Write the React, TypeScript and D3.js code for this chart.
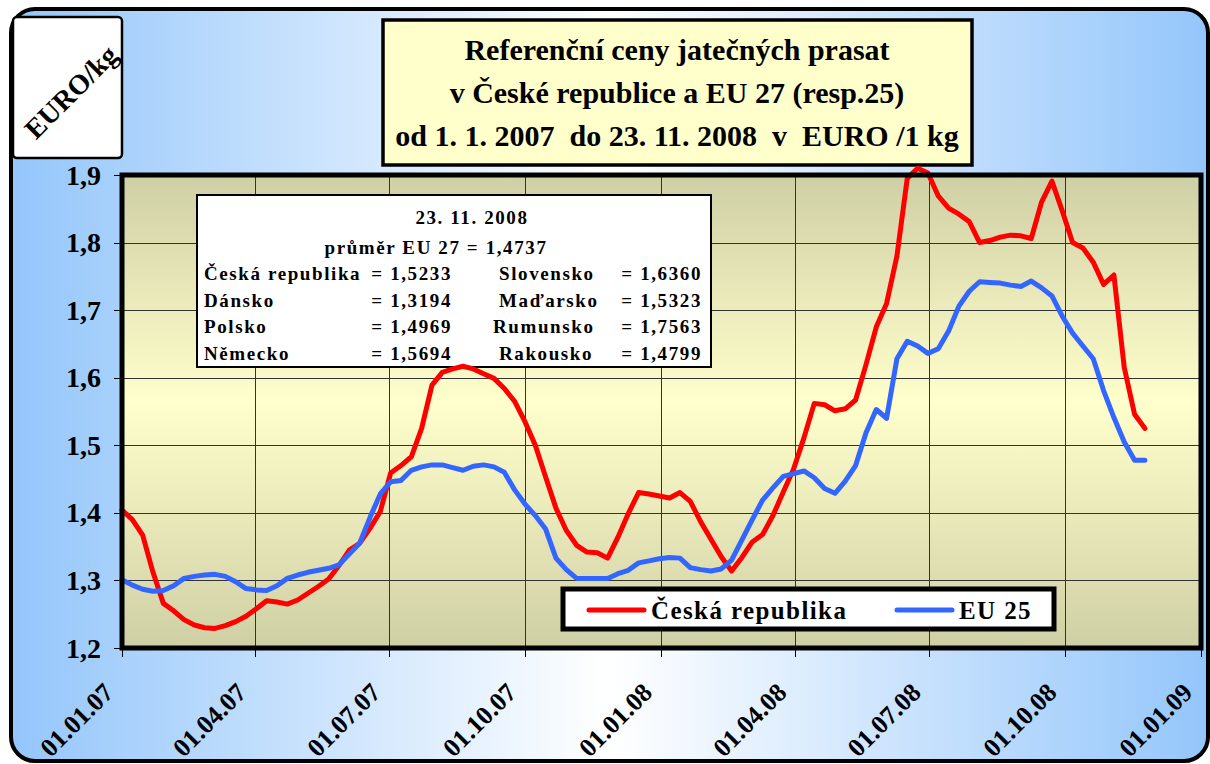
import React from "react";
import * as d3 from "d3";

// weekly prices from 1. 1. 2007 to 23. 11. 2008 (EUR/kg)
const firstWeek = "2007-01-01";
const czValues = [
  1.404, 1.39, 1.367, 1.312, 1.266, 1.255, 1.242, 1.234, 1.23, 1.229,
  1.233, 1.239, 1.247, 1.258, 1.27, 1.268, 1.265, 1.271, 1.281, 1.291,
  1.302, 1.322, 1.345, 1.355, 1.377, 1.402, 1.459, 1.47, 1.483, 1.525,
  1.589, 1.608, 1.613, 1.617, 1.613, 1.606, 1.599, 1.584, 1.565, 1.535,
  1.5, 1.453, 1.407, 1.374, 1.352, 1.342, 1.341, 1.333, 1.364, 1.399,
  1.43, 1.428, 1.425, 1.422, 1.43, 1.417, 1.387, 1.361, 1.335, 1.314,
  1.334, 1.357, 1.368, 1.396, 1.431, 1.465, 1.511, 1.562, 1.56, 1.551,
  1.554, 1.567, 1.619, 1.675, 1.71, 1.78, 1.895, 1.91, 1.903, 1.869,
  1.851, 1.842, 1.831, 1.8, 1.803, 1.808, 1.811, 1.81, 1.806, 1.86,
  1.891, 1.847, 1.8, 1.792, 1.771, 1.738, 1.752, 1.615, 1.546, 1.525,
];
const euValues = [
  1.301, 1.293, 1.287, 1.284, 1.285, 1.292, 1.303, 1.306, 1.308, 1.309,
  1.306, 1.298, 1.288, 1.286, 1.285, 1.292, 1.303, 1.308, 1.312, 1.315,
  1.318, 1.323, 1.339, 1.355, 1.393, 1.428, 1.446, 1.448, 1.463, 1.468,
  1.471, 1.471, 1.467, 1.463, 1.469, 1.471, 1.468, 1.46, 1.434, 1.413,
  1.396, 1.376, 1.333, 1.316, 1.303, 1.303, 1.303, 1.303, 1.31, 1.315,
  1.326, 1.329, 1.332, 1.334, 1.333, 1.319, 1.316, 1.314, 1.317, 1.33,
  1.36, 1.39, 1.419, 1.437, 1.454, 1.458, 1.462, 1.452, 1.436, 1.429,
  1.447, 1.47, 1.518, 1.553, 1.54, 1.628, 1.654, 1.647, 1.636, 1.643,
  1.669, 1.706, 1.728, 1.742, 1.741, 1.74, 1.737, 1.735, 1.743, 1.733,
  1.721, 1.691, 1.666, 1.647, 1.628, 1.581, 1.541, 1.505, 1.478, 1.478,
];
const seriesNames = ["Česká republika", "EU 25"];
const seriesColors = ["#ff0000", "#3366ff"];

const yTicks = [1.2, 1.3, 1.4, 1.5, 1.6, 1.7, 1.8, 1.9];
const xTickDates = [
  "2007-01-01", "2007-04-01", "2007-07-01", "2007-10-01", "2008-01-01",
  "2008-04-01", "2008-07-01", "2008-10-01", "2009-01-01",
];

const titleLines = [
  "Referenční ceny jatečných prasat",
  "v České republice a EU 27 (resp.25)",
  "od 1. 1. 2007  do 23. 11. 2008  v  EURO /1 kg",
];
const unitLabel = "EURO/kg";

const boxDate = "23. 11. 2008";
const boxAverage = "průměr EU 27  = 1,4737";
const leftCountries = ["Česká republika", "Dánsko", "Polsko", "Německo"];
const leftValues = ["= 1,5233", "= 1,3194", "= 1,4969", "= 1,5694"];
const rightCountries = ["Slovensko", "Maďarsko", "Rumunsko", "Rakousko"];
const rightValues = ["= 1,6360", "= 1,5323", "=  1,7563", "= 1,4799"];

const W = 1210;
const H = 764;
const plot = { left: 122, right: 1201, top: 175, bottom: 648 };
const serif = "'Liberation Serif', 'Times New Roman', serif";

export default function App() {
  const parse = d3.timeParse("%Y-%m-%d");
  const start = parse(firstWeek) as Date;
  const weeks = czValues.map((_, i) => d3.timeDay.offset(start, i * 7));
  const ticks = xTickDates.map((d) => parse(d) as Date);

  const x = d3
    .scaleTime()
    .domain([ticks[0], ticks[ticks.length - 1]])
    .range([plot.left, plot.right]);
  const y = d3.scaleLinear().domain([1.2, 1.9]).range([plot.bottom, plot.top]);

  const fmtDate = d3.timeFormat("%d.%m.%y");
  const fmtY = (v: number) => d3.format(".1f")(v).replace(".", ",");

  const line = d3
    .line<number>()
    .x((_, i) => x(weeks[i]))
    .y((d) => y(d))
    .curve(d3.curveLinear);

  const boxX = 197, boxY = 195;

  return (
    <svg
      width={W}
      height={H}
      style={{ position: "absolute", left: 0, top: 0, background: "#fff" }}
      fontFamily={serif}
      fontWeight="bold"
    >
      <defs>
        <linearGradient id="bg" x1="0" y1="0" x2="1" y2="0">
          <stop offset="0%" stopColor="#94c6fb" />
          <stop offset="50%" stopColor="#ffffff" />
          <stop offset="100%" stopColor="#94c6fb" />
        </linearGradient>
        <linearGradient id="plotbg" x1="0" y1="0" x2="0" y2="1">
          <stop offset="0%" stopColor="#cfcfa5" />
          <stop offset="48%" stopColor="#ffffcc" />
          <stop offset="100%" stopColor="#cfcfa5" />
        </linearGradient>
      </defs>

      {/* outer frame */}
      <rect x={11} y={9} width={1197} height={752} rx={24} fill="url(#bg)" stroke="#000" strokeWidth={4} />

      {/* unit label box */}
      <rect x={13} y={17} width={109} height={141} rx={4} fill="#fff" stroke="#000" strokeWidth={2.5} />
      <text
        transform="translate(71,92) rotate(-45)"
        textAnchor="middle"
        dominantBaseline="central"
        fontSize={28}
      >
        {unitLabel}
      </text>

      {/* title box */}
      <rect x={383} y={20} width={589} height={145} fill="#ffffcc" stroke="#000" strokeWidth={3.5} />
      {titleLines.map((t, i) => (
        <text
          key={i}
          x={677}
          y={60 + i * 43}
          textAnchor="middle"
          fontSize={30}
          style={{ whiteSpace: "pre" }}
        >
          {t}
        </text>
      ))}

      {/* plot area */}
      <rect
        x={plot.left}
        y={plot.top}
        width={plot.right - plot.left}
        height={plot.bottom - plot.top}
        fill="url(#plotbg)"
      />
      {yTicks.slice(1, -1).map((v) => (
        <line key={v} x1={plot.left} x2={plot.right} y1={Math.round(y(v)) + 0.5} y2={Math.round(y(v)) + 0.5} stroke="#333" strokeWidth={1} />
      ))}
      {ticks.slice(1, -1).map((d, i) => (
        <line key={i} x1={Math.round(x(d)) + 0.5} x2={Math.round(x(d)) + 0.5} y1={plot.top} y2={plot.bottom} stroke="#333" strokeWidth={1} />
      ))}

      {/* y axis ticks + labels */}
      {yTicks.map((v) => (
        <g key={v}>
          <line x1={114} x2={plot.left} y1={Math.round(y(v)) + 0.5} y2={Math.round(y(v)) + 0.5} stroke="#000" />
          <text x={101} y={y(v)} textAnchor="end" dominantBaseline="central" fontSize={28}>
            {fmtY(v)}
          </text>
        </g>
      ))}

      {/* x axis ticks + labels */}
      {ticks.map((d, i) => (
        <g key={i}>
          <line x1={Math.round(x(d)) + 0.5} x2={Math.round(x(d)) + 0.5} y1={plot.bottom} y2={plot.bottom + 9} stroke="#000" />
          <text
            transform={`translate(${x(d) - 7},694) rotate(-45)`}
            textAnchor="end"
            fontSize={26}
          >
            {fmtDate(d)}
          </text>
        </g>
      ))}

      {/* info box */}
      <rect x={boxX} y={boxY} width={514} height={172} fill="#fff" stroke="#000" strokeWidth={2} />
      <g fontSize={19} letterSpacing={1.6} style={{ whiteSpace: "pre" }}>
        <text x={472} y={boxY + 29} textAnchor="middle">{boxDate}</text>
        <text x={436} y={boxY + 59} textAnchor="middle">{boxAverage}</text>
        {leftCountries.map((c, i) => (
          <g key={c}>
            <text x={204} y={boxY + 85 + i * 26.5}>{c}</text>
            <text x={452} y={boxY + 85 + i * 26.5} textAnchor="end">{leftValues[i]}</text>
            <text x={rightCountries[i] === "Rumunsko" ? 493 : 499} y={boxY + 85 + i * 26.5}>
              {rightCountries[i]}
            </text>
            <text x={702} y={boxY + 85 + i * 26.5} textAnchor="end">{rightValues[i]}</text>
          </g>
        ))}
      </g>

      {/* series */}
      {[czValues, euValues].map((vals, s) => (
        <path
          key={s}
          d={line(vals) || undefined}
          fill="none"
          stroke={seriesColors[s]}
          strokeWidth={5}
          strokeLinejoin="round"
          strokeLinecap="round"
        />
      ))}

      {/* plot border */}
      <rect
        x={plot.left}
        y={plot.top}
        width={plot.right - plot.left}
        height={plot.bottom - plot.top}
        fill="none"
        stroke="#000"
        strokeWidth={5}
      />

      {/* legend */}
      <rect x={563} y={589} width={491} height={40} fill="#fff" stroke="#000" strokeWidth={5} />
      {seriesNames.map((n, i) => {
        const lx = i === 0 ? 589 : 897;
        return (
          <g key={n}>
            <line x1={lx} x2={lx + 55} y1={610} y2={610} stroke={seriesColors[i]} strokeWidth={5} strokeLinecap="round" />
            <text x={lx + 62} y={619} fontSize={25} letterSpacing={1.4}>
              {n}
            </text>
          </g>
        );
      })}
    </svg>
  );
}
